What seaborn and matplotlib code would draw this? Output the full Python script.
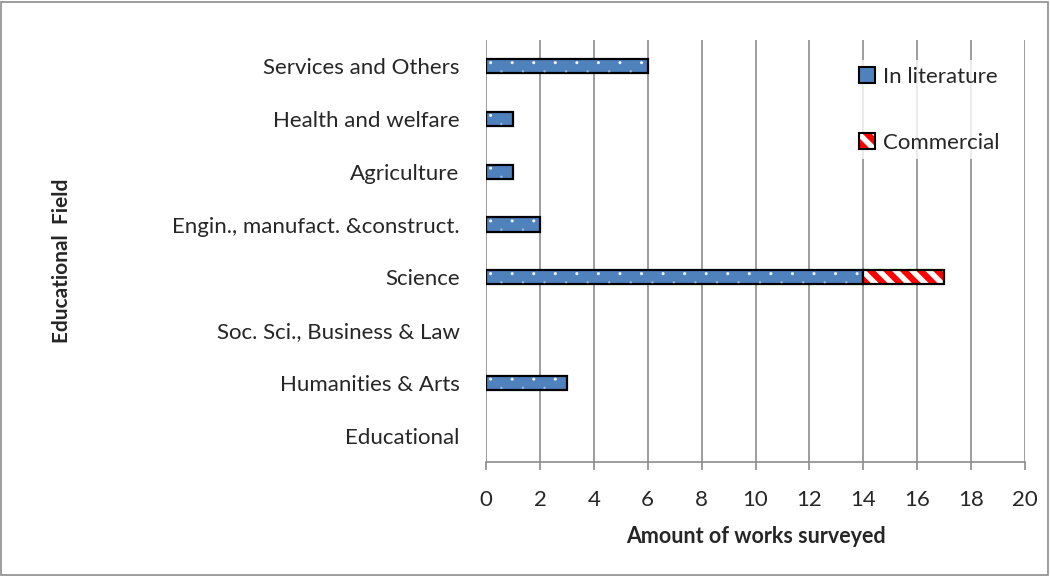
import matplotlib
matplotlib.use("Agg")
import matplotlib.pyplot as plt
import seaborn as sns
import numpy as np
import pandas as pd
from matplotlib.patches import Patch, Rectangle
from matplotlib.legend_handler import HandlerTuple

# Survey counts per educational field
fields = [
    "Services and Others",
    "Health and welfare",
    "Agriculture",
    "Engin., manufact. &construct.",
    "Science",
    "Soc. Sci., Business & Law",
    "Humanities & Arts",
    "Educational",
]
in_literature = [6, 1, 1, 2, 14, 0, 3, 0]
commercial = [0, 0, 0, 0, 3, 0, 0, 0]
x_ticks = [0, 2, 4, 6, 8, 10, 12, 14, 16, 18, 20]

sns.set_theme(style="white")
plt.rcParams["font.family"] = ["Lato", "DejaVu Sans"]
plt.rcParams["hatch.linewidth"] = 4.5

FS = 16
df = pd.DataFrame({"field": fields, "lit": in_literature, "com": commercial})

fig = plt.figure(figsize=(10.5, 5.76), dpi=100)
ax = fig.add_axes([0.4629, 0.198, 0.5133, 0.7326])

blue = "#4F81BD"
bar_h = 0.27

# Literature series
sns.barplot(data=df, x="lit", y="field", orient="h", color=blue,
            width=bar_h, saturation=1, linewidth=1.6, edgecolor="black",
            ax=ax, zorder=3)

ypos = np.arange(len(fields))

# light dotted texture on the literature bars
for y, v in zip(ypos, in_literature):
    if v <= 0:
        continue
    top_x = np.arange(0.17, v - 0.05, 0.8)
    bot_x = np.arange(0.57, v - 0.05, 0.8)
    ax.scatter(top_x, np.full_like(top_x, y - bar_h / 2 + 0.065), s=5,
               color="white", edgecolors="none", alpha=0.9, zorder=4)
    ax.scatter(bot_x, np.full_like(bot_x, y + bar_h / 2 - 0.04), s=3,
               color="white", edgecolors="none", alpha=0.45, zorder=4)

# Commercial series stacked after the literature counts
ax.barh(ypos, commercial, left=in_literature, height=bar_h, color="white",
        hatch="\\\\", edgecolor="red", linewidth=0, zorder=3)
ax.barh(ypos, commercial, left=in_literature, height=bar_h, fill=False,
        edgecolor="black", linewidth=1.6, zorder=5)

# empty categories draw nothing
for p in ax.patches:
    if p.get_width() == 0:
        p.set_visible(False)

ax.set_xlim(0, 20)
ax.set_ylim(len(fields) - 0.5, -0.5)
ax.set_xticks(x_ticks)
ax.set_xticklabels([str(t) for t in x_ticks], fontsize=FS)
ax.tick_params(axis="y", labelsize=FS, length=0, pad=19)
ax.tick_params(axis="x", length=6, width=1.2, color="#8c8c8c", pad=14,
               bottom=True, direction="out")
ax.grid(axis="x", color="#8c8c8c", linewidth=1.2, zorder=0)
ax.grid(axis="y", visible=False)
for s in ["top", "right", "left"]:
    ax.spines[s].set_visible(False)
ax.spines["bottom"].set_color("#8c8c8c")
ax.spines["bottom"].set_linewidth(1.2)

ax.set_xlabel("Amount of works surveyed", fontsize=15.5, fontweight="bold",
              labelpad=12)
ax.set_ylabel("")
fig.text(0.059, 0.548, "Educational  Field", rotation=90, fontsize=15,
         fontweight="bold", ha="center", va="center")

handles = [
    Patch(facecolor=blue, edgecolor="black", linewidth=1.5),
    (Patch(facecolor="white", edgecolor="red", hatch="\\\\", linewidth=0),
     Patch(fill=False, edgecolor="black", linewidth=1.5)),
]
leg = ax.legend(handles, ["In literature", "Commercial"], loc="upper right",
                bbox_to_anchor=(0.985, 0.978), frameon=True, fontsize=FS,
                handlelength=0.7, handleheight=0.7, handletextpad=0.35,
                labelspacing=2.05, borderpad=0.3,
                handler_map={tuple: HandlerTuple(ndivide=1)})
leg.get_frame().set_facecolor("white")
leg.get_frame().set_linewidth(0)
leg.set_zorder(6)

# outer figure border
fig.patches.append(Rectangle((0.001, 0.002), 0.997, 0.995, transform=fig.transFigure,
                             fill=False, edgecolor="#8c8c8c", linewidth=1.2))

fig.savefig("out.png", dpi=100)
